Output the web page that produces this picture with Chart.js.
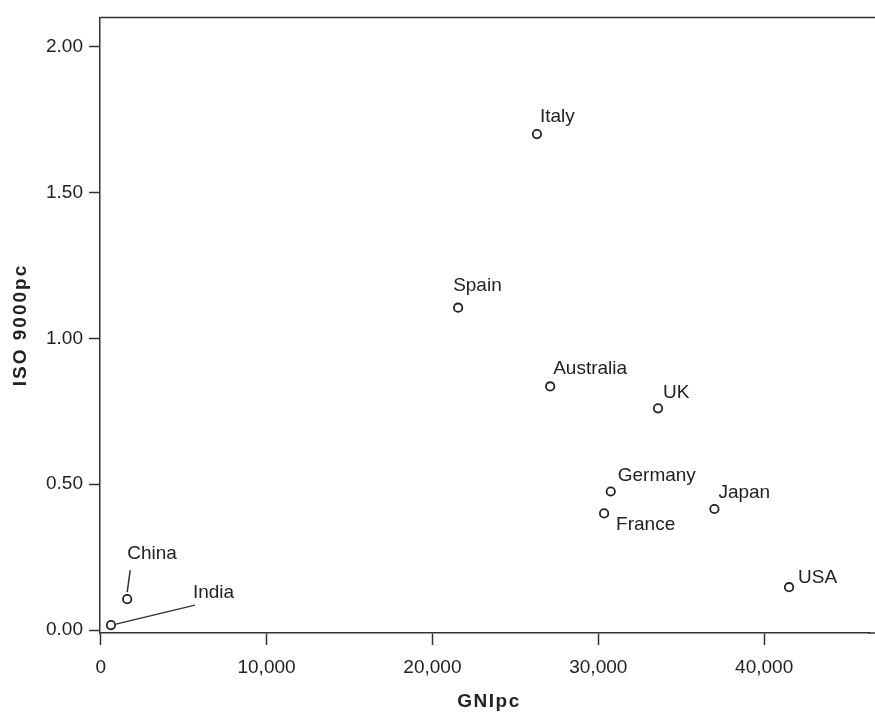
<!DOCTYPE html>
<html>
<head>
<meta charset="utf-8">
<script src="https://cdn.jsdelivr.net/npm/chart.js@4.4.1/dist/chart.umd.min.js"></script>
<style>
   html, body { margin: 0; padding: 0; background: #fff; overflow: hidden; }
   #wrap { width: 875px; height: 713px; }
</style>
</head>
<body>
<div id="wrap"><canvas id="isoChart" width="875" height="713"></canvas></div>
<script>
let countries = ["Italy", "Spain", "Australia", "UK", "Germany", "France", "Japan", "USA", "China", "India"];
let gniPc = [26300, 21550, 27100, 33600, 30750, 30350, 37000, 41500, 1600, 620];
let iso9000Pc = [1.70, 1.105, 0.835, 0.76, 0.475, 0.40, 0.415, 0.147, 0.106, 0.017];

let xTicks = [0, 10000, 20000, 30000, 40000];
let yTicks = [0, 0.5, 1.0, 1.5, 2.0];

let xTitle = "GNIpc";
let yTitle = "ISO 9000pc";

// where each name sits relative to its point (px)
let labelOffsets = {
   Italy: [3, -17],
   Spain: [-5, -22],
   Australia: [3, -18],
   UK: [5, -16],
   Germany: [7, -16],
   France: [12, 11],
   Japan: [4, -16],
   USA: [9, -9],
   China: [0, -45],
   India: [82, -32],
};

const ink = "#222";
const fontFam = "'Liberation Sans', Arial, sans-serif";

const pointLabels = {
   id: "pointLabels",
   afterDatasetsDraw(chart) {
      const c = chart.ctx;
      const area = chart.chartArea;
      c.save();
      // frame: top line, and carry the bottom axis to the edge
      c.strokeStyle = "#333";
      c.lineWidth = 1.5;
      c.beginPath();
      c.moveTo(area.left, area.top);
      c.lineTo(chart.width, area.top);
      c.moveTo(area.right - 1, area.bottom);
      c.lineTo(chart.width, area.bottom);
      c.stroke();

      const pts = chart.getDatasetMeta(0).data;
      c.font = "19px " + fontFam;
      c.fillStyle = ink;
      c.textBaseline = "middle";
      c.textAlign = "left";
      pts.forEach((p, i) => {
         const name = countries[i];
         const off = labelOffsets[name];
         const tx = p.x + off[0];
         const ty = p.y + off[1];
         if (name === "China") {
            c.beginPath();
            c.moveTo(p.x, p.y - 7);
            c.lineTo(p.x + 3, p.y - 29);
            c.stroke();
         }
         if (name === "India") {
            c.beginPath();
            c.moveTo(p.x + 5, p.y - 1);
            c.lineTo(tx + 2, ty + 12);
            c.stroke();
         }
         c.fillText(name, tx, ty);
      });

      // axis titles
      c.font = "bold 19px " + fontFam;
      c.textAlign = "center";
      c.letterSpacing = "1.5px";
      c.fillText(xTitle, 489, 702);
      c.letterSpacing = "2px";
      c.translate(21, 325);
      c.rotate(-Math.PI / 2);
      c.fillText(yTitle, 0, 0);
      c.restore();
   },
};

const ctx = document.getElementById("isoChart").getContext("2d");
const isoChart = new Chart(ctx, {
   type: "scatter",
   data: {
      datasets: [
         {
            label: yTitle,
            data: gniPc.map((g, i) => ({x: g, y: iso9000Pc[i]})),
            pointStyle: "circle",
            pointRadius: 4.2,
            pointBorderWidth: 1.8,
            pointBackgroundColor: "#fff",
            pointBorderColor: "#222",
         },
      ],
   },
   options: {
      responsive: false,
      animation: false,
      layout: {padding: {top: 15, right: 0, left: 0, bottom: 0}},
      scales: {
         x: {
            type: "linear",
            min: -40,
            max: 46320,
            afterBuildTicks: (s) => { s.ticks = xTicks.map((v) => ({value: v})); },
            afterFit: (s) => { s.height = 80; },
            border: {display: true, color: "#333", width: 1.5},
            grid: {drawOnChartArea: false, tickLength: 12, color: "#333", tickWidth: 1.5},
            ticks: {
               color: ink,
               padding: 11,
               font: {family: fontFam, size: 19},
               callback: (v) => v.toLocaleString("en-US"),
            },
         },
         y: {
            min: -0.01,
            max: 2.1,
            afterBuildTicks: (s) => { s.ticks = yTicks.map((v) => ({value: v})); },
            afterFit: (s) => { s.width = 100; },
            border: {display: true, color: "#333", width: 1.5},
            grid: {drawOnChartArea: false, tickLength: 11, color: "#333", tickWidth: 1.5},
            ticks: {
               color: ink,
               padding: 6,
               font: {family: fontFam, size: 19},
               callback: (v) => v.toFixed(2),
            },
         },
      },
      plugins: {
         legend: {display: false},
         tooltip: {enabled: false},
      },
   },
   plugins: [pointLabels],
});
</script>
</body>
</html>
